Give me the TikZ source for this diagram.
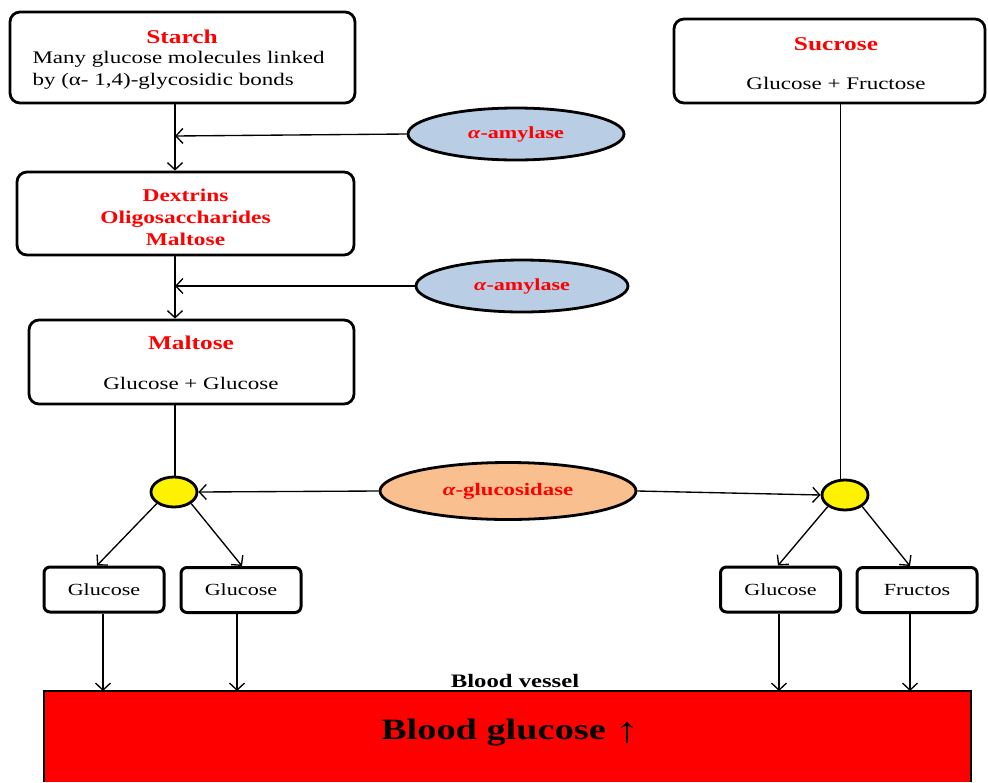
\documentclass[tikz,border=0pt]{standalone}
\usepackage{fontspec}
\setmainfont[FakeStretch=1.3]{Liberation Serif}
\usetikzlibrary{arrows.meta,shapes.geometric}
\definecolor{enzblue}{RGB}{185,205,229}
\definecolor{enzpeach}{RGB}{250,191,143}
\definecolor{vesselred}{RGB}{255,0,0}
\tikzset{
  x=1pt,y=-1pt,
  box/.style={draw,line width=2.8pt,rounded corners=10pt,fill=white},
  smallbox/.style={draw,line width=3pt,rounded corners=6pt,fill=white,
    minimum width=120pt,minimum height=45pt,font=\fontsize{17}{20}\selectfont},
  enzyme/.style={ellipse,draw,line width=2.8pt,text=red},
  junction/.style={ellipse,draw,line width=2.8pt,fill=yellow,minimum width=46pt,minimum height=30pt,inner sep=0pt},
  conn/.style={line width=1.35pt},
  flow/.style={conn,-{Straight Barb[length=7pt,width=15pt,line width=1.35pt]}},
  title/.style={font=\bfseries\fontsize{19.5}{22}\selectfont,text=red},
  body/.style={font=\fontsize{17.7}{21}\selectfont}
}
\begin{document}
\begin{tikzpicture}
\useasboundingbox (0,0) rectangle (988,782);

% substrate boxes
\node[box,minimum width=345pt,minimum height=91pt] (starch) at (182.5,57.5) {};
\node[title] at (182,36.5) {Starch};
\node[body,anchor=west] at (29,59) {Many glucose molecules linked};
\node[body,anchor=west] at (29,81) {by (α- 1,4)-glycosidic bonds};

\node[box,minimum width=311pt,minimum height=84pt] (sucrose) at (829.5,61) {};
\node[title] at (836,44) {Sucrose};
\node[body] at (836,83) {Glucose + Fructose};

\node[box,minimum width=337pt,minimum height=83pt] (dextrins) at (185.5,213.5) {};
\node[title,align=center,font=\bfseries\fontsize{18}{22}\selectfont] at (185.5,217)
  {Dextrins\\Oligosaccharides\\Maltose};

\node[box,minimum width=325pt,minimum height=84pt] (maltose) at (191.5,362) {};
\node[title] at (191,343) {Maltose};
\node[body] at (191,383) {Glucose + Glucose};

% enzymes
\node[enzyme,fill=enzblue,minimum width=216pt,minimum height=52pt,
  font=\bfseries\fontsize{17}{20}\selectfont] (amy1) at (516,134) {\textit{α}-amylase};
\node[enzyme,fill=enzblue,minimum width=212pt,minimum height=52pt,
  font=\bfseries\fontsize{17}{20}\selectfont] (amy2) at (522,286) {\textit{α}-amylase};
\node[enzyme,fill=enzpeach,minimum width=256pt,minimum height=57pt,
  font=\bfseries\fontsize{17.5}{20}\selectfont] (gluc) at (508,491) {\textit{α}-glucosidase};

% hydrolysis points
\node[junction] (jl) at (174,492) {};
\node[junction] (jr) at (845,495) {};

% products
\node[smallbox] (g1) at (104,589.5) {Glucose};
\node[smallbox] (g2) at (241,590) {Glucose};
\node[smallbox] (g3) at (780.5,589.5) {Glucose};
\node[smallbox] (fr) at (917,590) {Fructos};

% blood vessel
\fill[vesselred] (44,691) rectangle (971,782);
\draw[line width=2.8pt] (44,782) -- (44,691) -- (971,691) -- (971,782);
\node[font=\bfseries\fontsize{19}{22}\selectfont] (vessel) at (515,681) {Blood vessel};
\node[font=\bfseries\fontsize{29.5}{34}\selectfont] (bg) at (510,733)
  {Blood glucose \raisebox{-0.08em}{\fontsize{36}{36}\selectfont\mdseries ↑}};
\coordinate (v1) at (103,691);
\coordinate (v2) at (237,691);
\coordinate (v3) at (779,691);
\coordinate (v4) at (910,691);

% digestion pathway
\draw[flow] (starch.south -| 175,0) -- (dextrins.north -| 175,0);
\draw[flow] (amy1.west) -- (175,136);
\draw[flow] (dextrins.south -| 175,0) -- (maltose.north -| 175,0);
\draw[flow] (amy2.west) -- (175,286);
\draw[conn] (maltose.south -| 175,0) -- (jl.north -| 175,0);
\draw[conn] (sucrose.south -| 840.5,0) -- (840.5,481);
\draw[flow] (gluc.west) -- (jl.east);
\draw[flow] (gluc.east) -- (jr.west);
\draw[flow] (jl.south west) -- (g1.north -| 97,0);
\draw[flow] (jl.south east) -- (g2.north -| 242,0);
\draw[flow] (jr.south west) -- (g3.north -| 778,0);
\draw[flow] (jr.south east) -- (fr.north -| 910,0);
\draw[flow] (g1.south -| v1) -- (v1);
\draw[flow] (g2.south -| v2) -- (v2);
\draw[flow] (g3.south -| v3) -- (v3);
\draw[flow] (fr.south -| v4) -- (v4);
\end{tikzpicture}
\end{document}
